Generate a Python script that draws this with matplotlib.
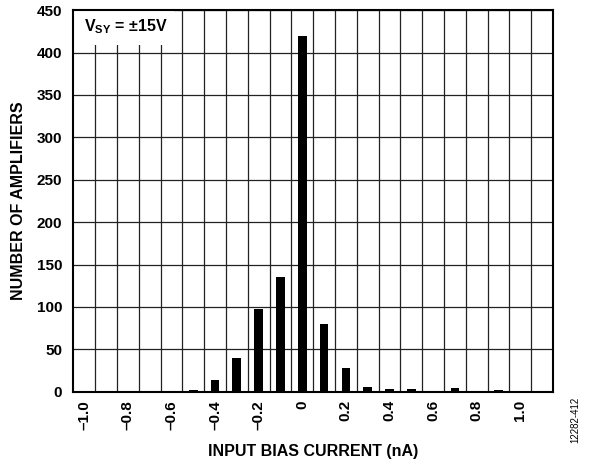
## plot.py
# histogram of input bias current, V_SY = +/-15V

import matplotlib
matplotlib.use("Agg")
import matplotlib.pyplot as plt
from matplotlib.patches import Rectangle
import numpy as np

# data
current = [-1.0, -0.9, -0.8, -0.7, -0.6, -0.5, -0.4, -0.3, -0.2, -0.1, 0.0,
           0.1, 0.2, 0.3, 0.4, 0.5, 0.6, 0.7, 0.8, 0.9, 1.0]
amplifiers = [0, 0, 0, 0, 0, 2, 14, 40, 97, 135, 420,
              80, 28, 6, 3, 3, 0, 4, 0, 2, 0]
xtick_values = [-1.0, -0.8, -0.6, -0.4, -0.2, 0.0, 0.2, 0.4, 0.6, 0.8, 1.0]
xtick_labels = ["\u20131.0", "\u20130.8", "\u20130.6", "\u20130.4", "\u20130.2", "0",
                "0.2", "0.4", "0.6", "0.8", "1.0"]
ytick_values = [0, 50, 100, 150, 200, 250, 300, 350, 400, 450]

plt.rcParams["font.family"] = ["Liberation Sans", "DejaVu Sans"]
plt.rcParams["font.weight"] = "bold"
plt.rcParams["mathtext.fontset"] = "custom"
plt.rcParams["mathtext.bf"] = "Liberation Sans:bold"
plt.rcParams["mathtext.rm"] = "Liberation Sans:bold"

fig = plt.figure(figsize=(5.93, 4.63), dpi=100)
ax = fig.add_axes([0.1236, 0.154, 0.809, 0.824])

# bars
ax.bar(current, amplifiers, width=0.04, color="black", zorder=3)

# axes
ax.set_xlim(-1.05, 1.15)
ax.set_ylim(0, 450)
ax.set_xticks(xtick_values)
ax.set_xticklabels(xtick_labels, rotation=90, fontsize=11, fontweight="bold")
ax.set_xticks(np.arange(-0.95, 1.1, 0.1), minor=True)
ax.set_yticks(ytick_values)
ax.set_yticklabels([str(v) for v in ytick_values], fontsize=11, fontweight="bold")
ax.tick_params(axis="both", which="both", length=0)
ax.tick_params(axis="x", pad=6)
ax.tick_params(axis="y", pad=8)

# grid
ax.grid(True, axis="x", which="minor", color="#222222", linewidth=0.9, zorder=1)
ax.grid(True, axis="y", which="major", color="#222222", linewidth=0.9, zorder=1)
for s in ax.spines.values():
    s.set_linewidth(1.5)
    s.set_zorder(5)

# label box
ax.add_patch(Rectangle((-1.05, 409), 0.46, 41, facecolor="white",
                       edgecolor="none", zorder=2))
ax.text(-1.0, 431, "$\\mathbf{V_{SY}}$ = \u00b115V",
        fontsize=11.5, fontweight="bold", va="center", ha="left", zorder=4)

ax.set_xlabel("INPUT BIAS CURRENT (nA)", fontsize=11.5, fontweight="bold", labelpad=10)
ax.set_ylabel("NUMBER OF AMPLIFIERS", fontsize=11.5, fontweight="bold", labelpad=8)

fig.text(0.97, 0.093, "12282-412", rotation=90, fontsize=7, fontweight="normal",
         ha="center", va="center")

plt.savefig("out.png", dpi=100)
